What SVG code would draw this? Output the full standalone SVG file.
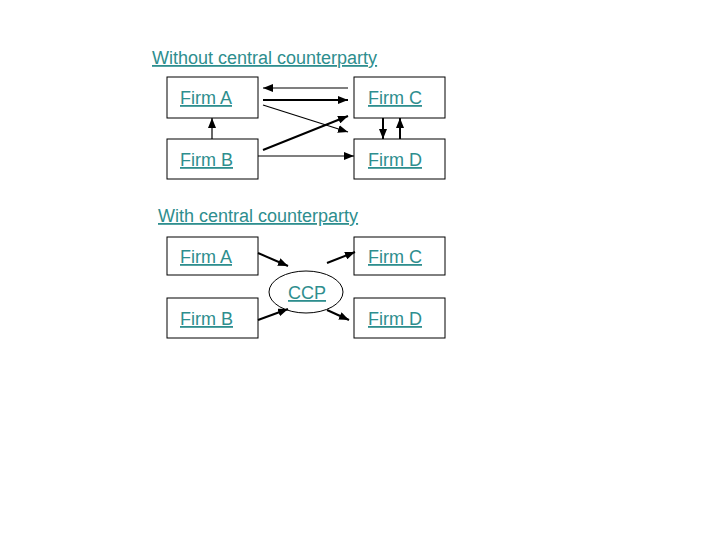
<svg xmlns="http://www.w3.org/2000/svg" width="720" height="540" viewBox="0 0 720 540">
<defs>
<marker id="ah" viewBox="0 0 10 8" refX="10" refY="4" markerWidth="10" markerHeight="8" markerUnits="userSpaceOnUse" orient="auto">
<path d="M0,0 L10,4 L0,8 Z" fill="#000"/>
</marker>
<style>
.box{fill:#fff;stroke:#000;stroke-width:1}
.lbl{font-family:"Liberation Sans",Arial,sans-serif;font-size:18px;fill:#2E8E8E;text-decoration:underline}
.ttl{font-family:"Liberation Sans",Arial,sans-serif;font-size:18px;fill:#2E8E8E;text-decoration:underline}
.c{stroke:#000;stroke-width:1.2;fill:none;marker-end:url(#ah)}
.t{stroke-width:2}
</style>
</defs>
<rect width="720" height="540" fill="#fff"/>
<text id="title1" class="ttl" x="152" y="64">Without central counterparty</text>
<g id="top-firmA"><rect class="box" x="167" y="77" width="91" height="41"/><text class="lbl" x="180" y="104">Firm A</text></g>
<g id="top-firmC"><rect class="box" x="354" y="77" width="91" height="41"/><text class="lbl" x="368" y="104">Firm C</text></g>
<g id="top-firmB"><rect class="box" x="167" y="139" width="91" height="40"/><text class="lbl" x="180" y="166">Firm B</text></g>
<g id="top-firmD"><rect class="box" x="354" y="139" width="91" height="40"/><text class="lbl" x="368" y="166">Firm D</text></g>
<g id="top-connectors">
<line class="c" x1="348" y1="88" x2="263" y2="88"/>
<line class="c t" x1="263" y1="100" x2="348" y2="100"/>
<line class="c" x1="263" y1="105" x2="348" y2="132"/>
<line class="c t" x1="263" y1="150" x2="348" y2="116"/>
<line class="c" x1="258" y1="156" x2="354" y2="156"/>
<line class="c" x1="212" y1="139" x2="212" y2="118"/>
<line class="c t" x1="383" y1="118" x2="383" y2="139"/>
<line class="c t" x1="400" y1="139" x2="400" y2="118"/>
</g>
<text id="title2" class="ttl" x="158" y="222">With central counterparty</text>
<g id="bot-firmA"><rect class="box" x="167" y="237" width="91" height="38"/><text class="lbl" x="180" y="263">Firm A</text></g>
<g id="bot-firmC"><rect class="box" x="354" y="237" width="91" height="38"/><text class="lbl" x="368" y="263">Firm C</text></g>
<g id="bot-firmB"><rect class="box" x="167" y="298" width="91" height="40"/><text class="lbl" x="180" y="325">Firm B</text></g>
<g id="bot-firmD"><rect class="box" x="354" y="298" width="91" height="40"/><text class="lbl" x="368" y="325">Firm D</text></g>
<g id="ccp"><ellipse cx="306" cy="292" rx="37" ry="21" fill="#fff" stroke="#000" stroke-width="1"/><text class="lbl" x="288" y="299">CCP</text></g>
<g id="bot-connectors">
<line class="c t" x1="258" y1="253" x2="288" y2="266"/>
<line class="c t" x1="327" y1="263" x2="355" y2="252"/>
<line class="c t" x1="258" y1="320" x2="288" y2="309"/>
<line class="c t" x1="327" y1="310" x2="349" y2="320"/>
</g>
</svg>
